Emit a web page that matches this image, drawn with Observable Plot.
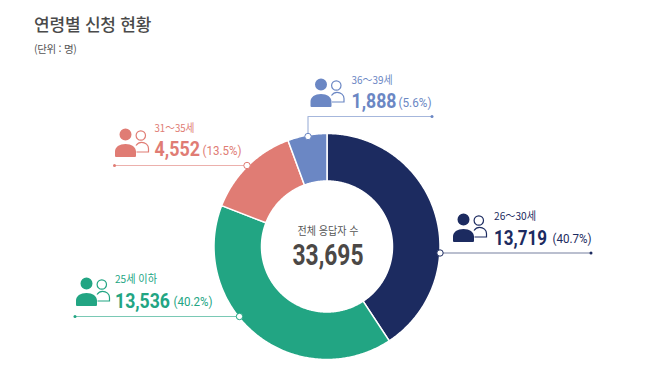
<!DOCTYPE html>
<html lang="ko">
<head>
<meta charset="utf-8">
<script src="https://cdn.jsdelivr.net/npm/d3@7"></script>
<script src="https://cdn.jsdelivr.net/npm/@observablehq/plot@0.6"></script>
<style>
html,body{margin:0;padding:0;background:#fff;overflow:hidden}
#head{position:relative;height:65px;font-family:"Noto Sans CJK KR","Noto Sans",sans-serif}
#title{position:absolute;left:34px;top:11px;font-size:17px;font-weight:500;color:#4a4a4a;line-height:26px;letter-spacing:-.2px}
#sub{position:absolute;left:34px;top:41px;font-size:10.5px;color:#555;line-height:16px;letter-spacing:-.3px}
svg{display:block}
</style>
</head>
<body>
<div id="head"><div id="title">연령별 신청 현황</div><div id="sub">(단위 : 명)</div></div>
<div id="chart"></div>
<script>
// Data
const ages = ["26～30세", "25세 이하", "31～35세", "36～39세"];
const counts = [13719, 13536, 4552, 1888];
const shares = ["(40.7%)", "(40.2%)", "(13.5%)", "(5.6%)"];
const totalLabel = "전체 응답자 수";
const totalValue = 33695;
const colors = ["#1c2b60", "#22a583", "#e07c74", "#6b87c4"];

// Layout (pixels of the 650x370 page)
const cx = 326.5, cy = 246, outer = 113, inner = 65.5;
const layout = [
  {ix: 463, iy: 219, tx: 493.5, ageY: 216, numY: 237.5, ageW: 42, numW: 53, pctX: 552, pctW: 39, leader: [[439.5, 252.5], [590.5, 252.5]]},
  {ix: 86,  iy: 283, tx: 114.5, ageY: 279, numY: 300.5, ageW: 42, numW: 55, pctX: 173, pctW: 39, leader: [[239, 316], [74.5, 316]]},
  {ix: 125, iy: 134, tx: 154,   ageY: 128, numY: 149,   ageW: 40, numW: 45.5, pctX: 202, pctW: 39, leader: [[246.5, 165], [114, 165]]},
  {ix: 320.5, iy: 84, tx: 351,  ageY: 80,  numY: 101,   ageW: 41, numW: 45, pctX: 398, pctW: 33, leader: [[307.5, 136], [307.5, 116], [431.5, 116]]}
];

const total = d3.sum(counts);
const fmt = d3.format(",");
let acc = 0;
const slicePoints = [];
ages.forEach((age, i) => {
  const a0 = acc / total * 2 * Math.PI;
  acc += counts[i];
  const a1 = acc / total * 2 * Math.PI;
  const ring = [];
  const n = Math.ceil((a1 - a0) / 0.01);
  for (let k = 0; k <= n; k++) {
    const t = a0 + (a1 - a0) * k / n;
    ring.push({age, x: cx + outer * Math.sin(t), y: cy - outer * Math.cos(t)});
  }
  for (let k = n; k >= 0; k--) {
    const t = a0 + (a1 - a0) * k / n;
    ring.push({age, x: cx + inner * Math.sin(t), y: cy - inner * Math.cos(t)});
  }
  ring.push(ring[0]);
  slicePoints.push(...ring);
});

const rows = ages.map((age, i) => ({age, count: fmt(counts[i]), share: shares[i], ...layout[i]}));
const leaders = rows.flatMap(r => r.leader.map(p => ({age: r.age, x: p[0], y: p[1]})));
const starts = rows.map(r => ({age: r.age, x: r.leader[0][0], y: r.leader[0][1]}));
const ends = rows.map(r => ({age: r.age, x: r.leader.at(-1)[0], y: r.leader.at(-1)[1]}));

const mainPerson = {draw(c) {
  c.moveTo(6, 0); c.arc(0, 0, 6, 0, 2 * Math.PI); c.closePath();
  c.moveTo(-10.5, 21.5); c.lineTo(-10.5, 17);
  c.bezierCurveTo(-10.5, 12.5, -6, 9.5, 0, 9.5);
  c.bezierCurveTo(6, 9.5, 10.5, 12.5, 10.5, 17);
  c.lineTo(10.5, 21.5); c.quadraticCurveTo(10.5, 22.5, 9.5, 22.5);
  c.lineTo(-9.5, 22.5); c.quadraticCurveTo(-10.5, 22.5, -10.5, 21.5); c.closePath();
}};
const sidePerson = {draw(c) {
  c.moveTo(20, 1); c.arc(15.3, 1, 4.7, 0, 2 * Math.PI); c.closePath();
  c.moveTo(10.5, 11);
  c.bezierCurveTo(12, 8.8, 14, 7.8, 16, 7.8);
  c.bezierCurveTo(20, 7.8, 23, 10.5, 23, 14);
  c.lineTo(23, 17.5);
  c.lineTo(11, 17.5);
}};

const korean = '"Noto Sans CJK KR","Noto Sans",sans-serif';
const numeric = 'Roboto,"Noto Sans",sans-serif';

const chart = Plot.plot({
  width: 650, height: 305,
  margin: 0,
  x: {domain: [0, 650], range: [0, 650], axis: null},
  y: {domain: [65, 370], range: [0, 305], axis: null},
  color: {domain: ages, range: colors},
  marks: [
    Plot.line(leaders, {x: "x", y: "y", z: "age", stroke: "age", strokeWidth: 1.2, strokeOpacity: 0.6}),
    Plot.line(slicePoints, {x: "x", y: "y", z: "age", fill: "age", stroke: "white", strokeWidth: 1.5}),
    Plot.dot(ends, {x: "x", y: "y", r: 1.5, fill: "age"}),
    Plot.dot(starts, {x: "x", y: "y", r: 3.2, fill: "white", stroke: "age", strokeWidth: 1}),
    Plot.dot(rows, {x: "ix", y: "iy", symbol: mainPerson, r: 1, fill: "age"}),
    Plot.dot(rows, {x: "ix", y: "iy", symbol: sidePerson, r: 1, stroke: "age", fill: "none", strokeWidth: 1.2}),
    Plot.text(rows, {x: "tx", y: "ageY", text: "age", className: "fit-age", textAnchor: "start", fill: "age", fontFamily: korean, fontSize: 11, fontWeight: 400, lineAnchor: "middle"}),
    Plot.text(rows, {x: "tx", y: "numY", text: "count", className: "fit-num", textAnchor: "start", fill: "age", fontFamily: numeric, fontSize: 21, fontWeight: 700, lineAnchor: "middle"}),
    Plot.text(rows, {x: "pctX", y: d => d.numY + 1, text: "share", className: "fit-pct", textAnchor: "start", fill: "age", fontFamily: numeric, fontSize: 12.5, lineAnchor: "middle"}),
    Plot.text([totalLabel], {x: () => cx + 1, y: () => 231, text: d => d, className: "fit-label", fill: "#555", fontFamily: korean, fontSize: 11, lineAnchor: "middle"}),
    Plot.text([fmt(totalValue)], {x: () => cx + 1, y: () => 255, text: d => d, className: "fit-total", fill: "#4b4846", fontFamily: numeric, fontSize: 30, fontWeight: 700, lineAnchor: "middle"})
  ]
});
const fit = (cls, widths) => chart.querySelectorAll(`.${cls} text`).forEach((t, i) => {
  t.setAttribute("textLength", widths[i]);
  t.setAttribute("lengthAdjust", "spacingAndGlyphs");
});
fit("fit-age", rows.map(r => r.ageW));
fit("fit-num", rows.map(r => r.numW));
fit("fit-pct", rows.map(r => r.pctW));
fit("fit-label", [61]);
fit("fit-total", [71]);
document.getElementById("chart").append(chart);
</script>
</body>
</html>
